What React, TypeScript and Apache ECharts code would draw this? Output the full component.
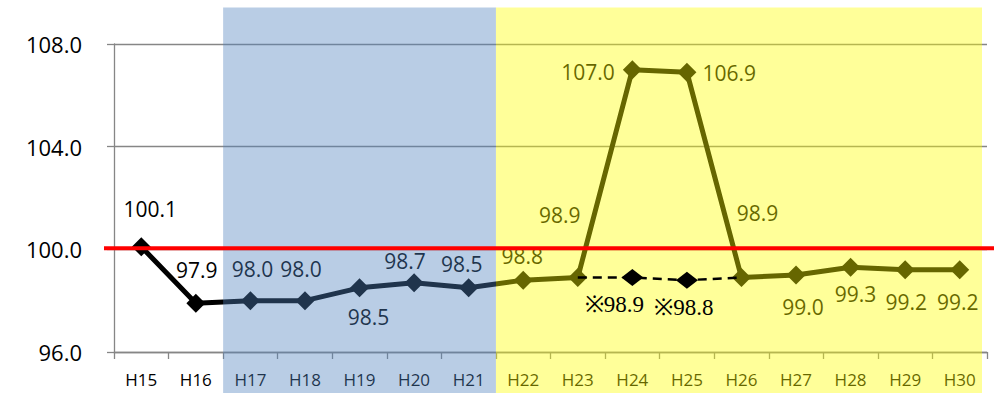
import React, { useEffect, useRef } from 'react';
import * as echarts from 'echarts';

const categories = ['H15', 'H16', 'H17', 'H18', 'H19', 'H20', 'H21', 'H22', 'H23', 'H24', 'H25', 'H26', 'H27', 'H28', 'H29', 'H30'];
const indexValues = [100.1, 97.9, 98.0, 98.0, 98.5, 98.7, 98.5, 98.8, 98.9, 107.0, 106.9, 98.9, 99.0, 99.3, 99.2, 99.2];
const adjustedValues: (number | null)[] = [null, null, null, null, null, null, null, null, 98.9, 98.9, 98.8, 98.9, null, null, null, null];
const adjustedLabels: (string | null)[] = [null, null, null, null, null, null, null, null, null, '※98.9', '※98.8', null, null, null, null, null];
const baselineValue = 100;
const yMin = 96;
const yMax = 108;
const yInterval = 4;
const blueSpan = ['H17', 'H21'];
const yellowSpan = ['H22', 'H30'];

// label placement per point: [position, dx, dy]
const labelPlacement: [string, number, number][] = [
  ['top', 9, -14], ['top', 1, -9], ['top', 2, -8], ['top', -4, -8], ['bottom', 9, 5], ['top', -9, 2],
  ['top', -7, 0], ['top', -1, 0], ['top', -18, -39], ['left', -4, 2], ['right', 2, 1], ['top', 16, -41],
  ['bottom', 7, 8], ['bottom', 5, 3], ['bottom', 1, 8], ['bottom', -2, 8],
];
const adjustedLabelOffset: [number, number][] = [
  [0, 0], [0, 0], [0, 0], [0, 0], [0, 0], [0, 0], [0, 0], [0, 0], [0, 0], [-18, 3], [-3, 3], [0, 0], [0, 0], [0, 0], [0, 0], [0, 0],
];

const FONT = "'Open Sans', 'Noto Sans', sans-serif";
const SERIF = 'Liberation Serif, DejaVu Serif, serif';
const AXIS_GREY = '#868686';

export default function App() {
  const ref = useRef<HTMLDivElement>(null);
  useEffect(() => {
    if (!ref.current) return;
    const chart = echarts.init(ref.current, null, { renderer: 'svg' });
    const mainData = indexValues.map((v, i) => ({
      value: v,
      label: {
        show: true,
        position: labelPlacement[i][0],
        offset: [labelPlacement[i][1], labelPlacement[i][2]],
      },
    }));
    const adjData = adjustedValues.map((v, i) => {
      if (v === null) return null;
      const lbl = adjustedLabels[i];
      return {
        value: v,
        symbol: lbl ? 'diamond' : 'none',
        label: lbl
          ? {
              show: true,
              position: 'bottom',
              offset: adjustedLabelOffset[i],
              formatter: () => lbl,
              color: '#000',
              fontFamily: SERIF,
              fontWeight: 'normal',
              fontSize: 23,
            }
          : { show: false },
      };
    });
    chart.setOption({
      animation: false,
      grid: { left: 114, right: 7, top: 44, bottom: 41 },
      xAxis: {
        type: 'category',
        data: categories,
        boundaryGap: true,
        axisLine: { show: true, lineStyle: { color: AXIS_GREY, width: 1.3 } },
        axisTick: { show: true, length: 7, alignWithLabel: false, lineStyle: { color: AXIS_GREY, width: 1.3 } },
        axisLabel: { color: '#000', fontFamily: FONT, fontSize: 17, margin: 19, interval: 0 },
        splitLine: { show: false },
      },
      yAxis: {
        type: 'value',
        min: yMin,
        max: yMax,
        interval: yInterval,
        axisLine: { show: true, lineStyle: { color: AXIS_GREY, width: 1.3 } },
        axisTick: { show: true, length: 7, lineStyle: { color: AXIS_GREY, width: 1.3 } },
        axisLabel: { color: '#000', fontFamily: FONT, fontSize: 22, margin: 32, formatter: (v: number) => v.toFixed(1) },
        splitLine: { show: true, lineStyle: { color: AXIS_GREY, width: 1.3 } },
      },
      series: [
        {
          type: 'line',
          z: 2,
          data: mainData,
          symbol: 'diamond',
          symbolSize: [19, 19],
          lineStyle: { color: '#000', width: 5 },
          itemStyle: { color: '#000' },
          label: {
            show: true,
            color: '#000',
            fontFamily: FONT,
            fontSize: 21,
            distance: 4,
            formatter: (p: any) => Number(p.value).toFixed(1),
          },
        },
        {
          type: 'line',
          z: 30,
          data: adjData,
          connectNulls: false,
          symbol: 'diamond',
          symbolSize: [22, 17],
          lineStyle: { color: '#000', width: 2.5, type: [9, 6] },
          itemStyle: { color: '#000' },
          label: {
            color: '#000',
            fontFamily: SERIF,
            fontSize: 23,
            distance: 4,
          },
        },
      ],
    });

    const px = (c: string) => chart.convertToPixel({ xAxisIndex: 0 }, c) as number;
    const band = px(categories[1]) - px(categories[0]);
    const blueL = px(blueSpan[0]) - band / 2;
    const blueR = px(blueSpan[1]) + band / 2;
    const yellowL = blueR;
    const yellowR = px(yellowSpan[1]) + band / 2 - 5;
    const yBase = chart.convertToPixel({ yAxisIndex: 0 }, baselineValue) as number;
    const top = 7.5;
    const h = 393 - top;
    chart.setOption({
      graphic: [
        { type: 'rect', z: 10, shape: { x: blueL, y: top, width: blueR - blueL, height: h }, style: { fill: 'rgba(79,129,189,0.4)' }, silent: true },
        { type: 'rect', z: 10, shape: { x: yellowL, y: top, width: yellowR - yellowL, height: h }, style: { fill: 'rgba(255,255,0,0.4)' }, silent: true },
        { type: 'line', z: 20, shape: { x1: 104, y1: yBase - 1, x2: 994, y2: yBase - 1 }, style: { stroke: '#ff0000', lineWidth: 4 }, silent: true },
      ],
    });
    return () => chart.dispose();
  }, []);
  return <div ref={ref} style={{ position: 'absolute', left: 0, top: 0, width: 994, height: 393 }} />;
}
